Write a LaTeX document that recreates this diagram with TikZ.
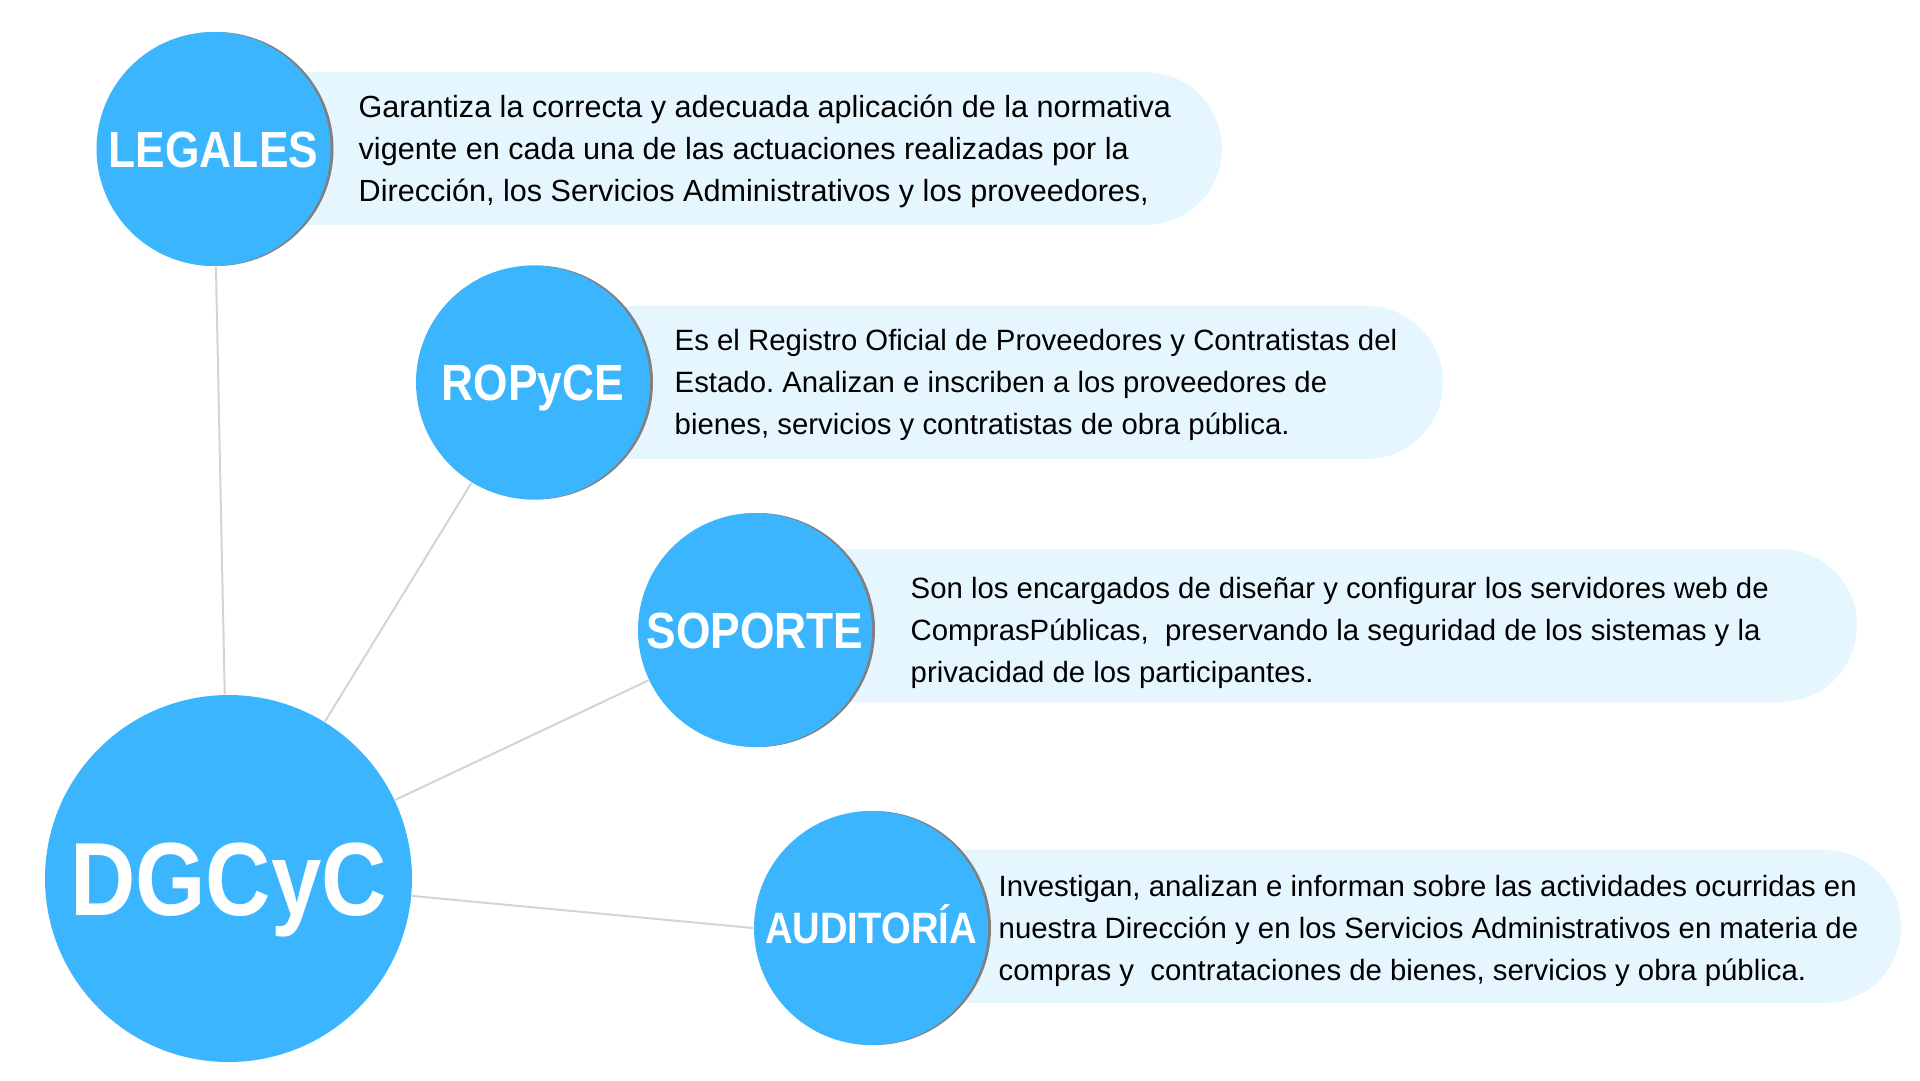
\documentclass[tikz,border=0pt]{standalone}
\usepackage{fontspec}
\setmainfont{Liberation Sans}
\newfontfamily\labelfont{Liberation Sans}[FakeStretch=0.87]
\frenchspacing
\usetikzlibrary{backgrounds,shadows}
\definecolor{unitblue}{RGB}{59,182,254}
\definecolor{descblue}{RGB}{229,246,254}
\definecolor{rimgray}{RGB}{128,128,128}
\definecolor{linkgray}{RGB}{212,212,212}

\begin{document}
\begin{tikzpicture}[scale=0.1]
\tikzstyle{every node}+=[inner sep=0pt]
\tikzstyle{unit}=[circle, fill=unitblue, minimum size=23.4mm, text=white, font=\labelfont\bfseries\fontsize{14.5pt}{14.5pt}\selectfont, text height=10.4pt, text depth=0pt]
\tikzstyle{rimmed}=[unit, drop shadow={shadow xshift=0.3mm, shadow yshift=0mm, fill=rimgray, opacity=1}]
\tikzstyle{desc}=[fill=descblue, rounded corners=7.65mm]
\tikzstyle{desctext}=[anchor=west, align=left, font=\fontsize{8.35pt}{11.95pt}\selectfont]
\tikzstyle{link}=[draw=linkgray, line width=0.2mm]
\useasboundingbox (0,0) rectangle (192,-108);
\fill [desc] (21.35,-7.2) rectangle (122.2,-22.5);
\fill [desc] (53.3,-30.6) rectangle (144.3,-45.9);
\fill [desc] (75.5,-54.9) rectangle (185.7,-70.2);
\fill [desc] (87.1,-85.0) rectangle (190.1,-100.3);
\node [rimmed] (legales) at (21.35,-14.9) {LEGALES};
\node [rimmed] (ropyce) at (53.3,-38.25) {ROPyCE};
\node [rimmed] (soporte) at (75.5,-63.0) {SOPORTE};
\node [rimmed, font=\labelfont\bfseries\fontsize{12.5pt}{12.5pt}\selectfont, text height=8.95pt] (auditoria) at (87.1,-92.8) {AUDITORÍA};
\node [unit, minimum size=36.7mm, font=\labelfont\bfseries\fontsize{29.6pt}{29.6pt}\selectfont, text height=21.2pt] (dgcyc) at (22.85,-87.85) {DGCyC};
\node [desctext, font=\fontsize{8.7pt}{11.95pt}\selectfont] (legalestext) at (35.8,-15.1) {Garantiza la correcta y adecuada aplicación de la normativa\\vigente en cada una de las actuaciones realizadas por la\\Dirección, los Servicios Administrativos y los proveedores,};
\node [desctext] (ropycetext) at (67.4,-38.5) {Es el Registro Oficial de Proveedores y Contratistas del\\Estado. Analizan e inscriben a los proveedores de\\bienes, servicios y contratistas de obra pública.};
\node [desctext] (soportetext) at (91.0,-63.3) {Son los encargados de diseñar y configurar los servidores web de\\ComprasPúblicas,~ preservando la seguridad de los sistemas y la\\privacidad de los participantes.};
\node [desctext] (auditoriatext) at (99.8,-93.1) {Investigan, analizan e informan sobre las actividades ocurridas en\\nuestra Dirección y en los Servicios Administrativos en materia de\\compras y~ contrataciones de bienes, servicios y obra pública.};
\begin{scope}[on background layer]
\draw [link] (legales) -- (dgcyc);
\draw [link] (ropyce) -- (dgcyc);
\draw [link] (soporte) -- (dgcyc);
\draw [link] (dgcyc) -- (auditoria.west);
\end{scope}
\end{tikzpicture}
\end{document}
